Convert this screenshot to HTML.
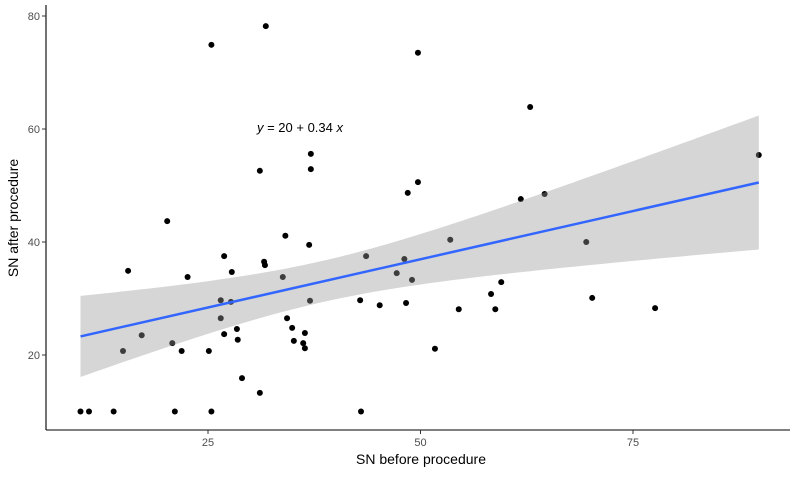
<!DOCTYPE html>
<html><head><meta charset="utf-8"><style>
body{margin:0;background:#fff;font-family:"Liberation Sans",sans-serif}
svg text{font-family:"Liberation Sans",sans-serif}
</style></head><body>
<svg id="chart" width="800" height="475" xmlns="http://www.w3.org/2000/svg">
<g id="plot"></g>
<line x1="46" y1="5" x2="46" y2="430" stroke="#000" stroke-width="1.1"/>
<line x1="46" y1="430" x2="790" y2="430" stroke="#000" stroke-width="1.1"/>
<text x="421" y="464" font-size="14" text-anchor="middle">SN before procedure</text>
<text transform="translate(18,218) rotate(-90)" font-size="14" text-anchor="middle">SN after procedure</text>
</svg>
<script>
const xVals=[10,11,13.9,15.6,15,17.2,20.2,20.8,21.1,21.9,22.6,25.1,25.4,26.5,26.5,26.9,26.9,27.7,27.8,28.4,28.5,29,31.1,31.6,31.7,33.8,34.1,34.3,34.9,35.1,36.2,36.4,36.4,36.9,37,42.9,43,43.6,45.2,47.2,48.1,48.3,49,51.7,48.5,49.7,53.5,54.5,58.3,58.8,59.5,61.8,64.6,69.5,70.2,77.6,89.8,25.4,31.8,37.1,37.1,49.7,62.9,31.1];
const yVals=[10,10,10,34.9,20.7,23.5,43.7,22.1,10,20.7,33.8,20.7,10,29.7,26.5,37.5,23.7,29.4,34.7,24.6,22.7,15.9,13.3,36.5,35.9,33.8,41.1,26.5,24.8,22.5,22.1,23.9,21.2,39.5,29.6,29.7,10,37.5,28.8,34.5,37,29.2,33.3,21.1,48.7,50.6,40.4,28.1,30.8,28.1,32.9,47.6,48.5,40,30.1,28.3,55.4,74.9,78.2,55.6,52.9,73.5,63.9,52.6];
const xTicks=[25,50,75];
const yTicks=[20,40,60,80];
const NS="http://www.w3.org/2000/svg";
const sx=v=>208+(v-25)*8.5;
const sy=v=>468-v*5.65;
const svg=document.getElementById('chart');
const plot=document.getElementById('plot');
function mk(t,a,p){const e=document.createElementNS(NS,t);for(const k in a)e.setAttribute(k,a[k]);(p||svg).appendChild(e);return e;}
// ticks
xTicks.forEach(t=>{
  const l=mk('line',{x1:sx(t),x2:sx(t),y1:430,y2:434,stroke:'#333'});
  
  
  const tx=mk('text',{x:sx(t),y:446,'font-size':11,fill:'#4d4d4d','text-anchor':'middle'});
  tx.textContent=t;
  
  
});
yTicks.forEach(t=>{
  const l=mk('line',{x1:42,x2:46,y1:sy(t),y2:sy(t),stroke:'#333'});
  
  
  const tx=mk('text',{x:40,y:sy(t)+4,'font-size':11,fill:'#4d4d4d','text-anchor':'end'});
  tx.textContent=t;
  
  
});
// points
xVals.forEach((x,i)=>{
  const c=mk('circle',{cx:sx(x),cy:sy(yVals[i]),r:3,fill:'#000'},plot);
  
  
});
// regression
const n=xVals.length;
const mx=xVals.reduce((a,b)=>a+b)/n,my=yVals.reduce((a,b)=>a+b)/n;
let sxx=0,sxy=0;xVals.forEach((x,i)=>{sxx+=(x-mx)**2;sxy+=(x-mx)*(yVals[i]-my);});
const b=sxy/sxx,a=my-b*mx;
let sse=0;xVals.forEach((x,i)=>{sse+=(yVals[i]-a-b*x)**2;});
const s=Math.sqrt(sse/(n-2)),tq=2.0;
const xmin=Math.min(...xVals),xmax=Math.max(...xVals);
const up=[],lo=[];
for(let k=0;k<=80;k++){const x=xmin+(xmax-xmin)*k/80;const se=s*Math.sqrt(1/n+(x-mx)**2/sxx);const f=a+b*x;up.push(sx(x)+','+sy(f+tq*se));lo.unshift(sx(x)+','+sy(f-tq*se));}
const band=mk('polygon',{points:up.concat(lo).join(' '),fill:'#999',opacity:0.4},plot);


const ln=mk('line',{x1:sx(xmin),y1:sy(a+b*xmin),x2:sx(xmax),y2:sy(a+b*xmax),stroke:'#3366ff','stroke-width':2.5},plot);


const eq=mk('text',{x:300,y:132,'font-size':13,'text-anchor':'middle'});
eq.innerHTML='<tspan font-style="italic">y</tspan> = '+Math.round(a)+' + '+b.toFixed(2)+' <tspan font-style="italic">x</tspan>';


</script>
</body></html>
